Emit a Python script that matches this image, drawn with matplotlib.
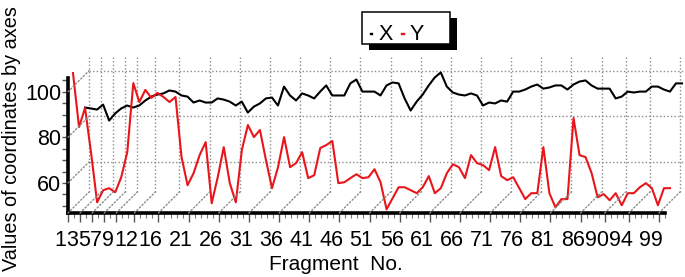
import matplotlib
matplotlib.use('Agg')
import matplotlib.pyplot as plt
from matplotlib.transforms import ScaledTranslation
from matplotlib.patches import Rectangle, ConnectionPatch
from matplotlib.lines import Line2D
from matplotlib.ticker import MultipleLocator, FixedLocator

plt.rcParams['font.family'] = ['Liberation Sans', 'DejaVu Sans']

# ---------------- data ----------------
fragments = list(range(1, 101))

x_values = [85.6, 85.2, 84.7, 86.9, 79.9, 83.0, 85.2, 86.5, 85.6, 86.5,
            88.7, 90.4, 91.3, 91.8, 93.1, 92.6, 90.9, 90.4, 87.8, 88.7,
            87.8, 87.8, 89.6, 89.1, 88.2, 86.5, 88.2, 83.4, 86.0, 87.4,
            89.6, 90.0, 86.5, 94.8, 90.9, 88.7, 91.8, 90.9, 89.6, 92.6,
            95.3, 90.9, 90.9, 90.9, 96.2, 97.9, 92.6, 92.6, 92.6, 90.9,
            95.3, 96.6, 96.2, 89.6, 84.3, 88.2, 91.3, 95.3, 98.8, 101.0,
            94.8, 92.2, 91.3, 90.9, 91.8, 90.9, 86.5, 87.8, 87.4, 88.7,
            88.2, 92.6, 92.6, 93.5, 94.8, 95.7, 93.9, 94.4, 95.3, 95.3,
            93.5, 95.7, 97.0, 97.5, 95.3, 93.9, 93.9, 93.9, 89.6, 90.4,
            92.6, 92.2, 92.6, 92.6, 94.8, 94.8, 93.5, 92.6, 96.2, 96.2]

y_values = [106.0, 82.3, 90.7, 70.9, 49.3, 54.6, 55.5, 53.7, 60.3, 71.3,
            101.6, 93.3, 98.6, 95.1, 97.3, 95.5, 93.3, 95.5, 69.1, 56.8,
            62.1, 70.0, 75.7, 48.9, 60.3, 73.5, 57.7, 49.3, 72.2, 83.2,
            77.9, 81.0, 67.8, 55.5, 64.7, 77.9, 64.7, 66.5, 71.3, 59.9,
            61.2, 73.1, 74.4, 76.2, 57.7, 58.1, 59.9, 61.6, 59.9, 60.3,
            63.8, 58.1, 46.2, 51.1, 55.9, 55.9, 54.6, 53.3, 55.9, 60.8,
            53.3, 55.5, 62.1, 66.0, 64.7, 59.9, 70.0, 66.5, 65.6, 63.4,
            73.5, 60.8, 59.0, 60.3, 55.5, 50.7, 53.3, 53.3, 73.5, 53.3,
            47.1, 50.7, 50.7, 86.3, 70.0, 69.1, 62.1, 51.5, 52.9, 50.2,
            53.3, 48.0, 53.3, 53.3, 55.9, 57.7, 55.5, 48.0, 55.5, 55.5]

x_tick_values = [1, 3, 5, 7, 9, 12, 16, 21, 26, 31, 36, 41, 46, 51, 56, 61,
                 66, 71, 76, 81, 86, 90, 94, 99]
x_tick_labels = [str(v) for v in x_tick_values]
y_tick_values = [60, 80, 100]
y_tick_labels = ['60', '80', '100']
series_names = ['X', 'Y']
series_colors = ['black', '#e8161b']

# ---------------- figure ----------------
W, H = 685, 277
fig = plt.figure(figsize=(W / 100, H / 100), dpi=100)
ax = fig.add_axes([68 / W, 64 / H, 597 / W, 134.5 / H])
ax.set_xlim(1, 100)
ax.set_ylim(46.8, 105.8)
ax.patch.set_alpha(0)

DEPTH = 0.21  # inches, back wall offset
back = ax.transData + ScaledTranslation(DEPTH, DEPTH, fig.dpi_scale_trans)
grid_kw = dict(color='#8a8a8a', lw=1.0, ls=(0, (1, 1.6)), zorder=1)

ylo, yhi = ax.get_ylim()
xlo, xhi = ax.get_xlim()
for yv in y_tick_values:
    ax.add_line(Line2D([xlo, xhi], [yv, yv], transform=back, clip_on=False, **grid_kw))
for xv in x_tick_values:
    ax.add_line(Line2D([xv, xv], [ylo, yhi], transform=back, clip_on=False, **grid_kw))
for xv in x_tick_values:
    fig.add_artist(ConnectionPatch((xv, ylo), (xv, ylo), coordsA=ax.transData,
                                   coordsB=back, arrowstyle='-', **grid_kw))
for yv in y_tick_values:
    fig.add_artist(ConnectionPatch((xlo, yv), (xlo, yv), coordsA=ax.transData,
                                   coordsB=back, arrowstyle='-', **grid_kw))

# series (X at back row, Y at front row)
tr_x = ax.transData + ScaledTranslation(0.17, 0.17, fig.dpi_scale_trans)
tr_y = ax.transData + ScaledTranslation(0.05, 0.05, fig.dpi_scale_trans)
ax.plot(fragments, x_values, color=series_colors[0], lw=1.5, transform=tr_x,
        clip_on=False, zorder=3)
ax.plot(fragments, y_values, color=series_colors[1], lw=1.5, transform=tr_y,
        clip_on=False, zorder=4)

for s in ['top', 'right']:
    ax.spines[s].set_visible(False)
for s in ['left', 'bottom']:
    ax.spines[s].set_linewidth(2.6)
    ax.spines[s].set_color('black')
    ax.spines[s].set_zorder(5)

ax.xaxis.set_major_locator(FixedLocator(x_tick_values))
ax.set_xticklabels(x_tick_labels)
ax.xaxis.set_minor_locator(MultipleLocator(1))
ax.yaxis.set_major_locator(FixedLocator(y_tick_values))
ax.set_yticklabels(y_tick_labels)
ax.yaxis.set_minor_locator(MultipleLocator(5))

ax.tick_params(axis='x', which='major', length=6.5, width=1.0, color='#555',
               labelsize=15.5, pad=5.5)
ax.tick_params(axis='x', which='minor', length=3.5, width=0.8, color='#777')
ax.tick_params(axis='y', which='both', length=4, width=1.0, color='#555',
               labelsize=15.5, pad=1)

for lab in ax.get_xticklabels():
    lab.set_transform(lab.get_transform() + ScaledTranslation(-0.08, 0, fig.dpi_scale_trans))

fig.text(12 / W, 1 - 139 / H, 'Values of coordinates by axes', rotation=90,
         ha='center', va='center', fontsize=14.3)
fig.text(336 / W, 1 - 270 / H, 'Fragment  No.', ha='center', va='baseline',
         fontsize=15)

# legend (boxed key with hard shadow)
bx0, by0, bw, bh = 362, 12, 88, 32
fig.add_artist(Rectangle(((bx0 + 7) / W, 1 - (by0 + 6 + bh) / H), bw / W, bh / H,
                         transform=fig.transFigure, facecolor='black',
                         edgecolor='none', zorder=10))
fig.add_artist(Rectangle((bx0 / W, 1 - (by0 + bh) / H), bw / W, bh / H,
                         transform=fig.transFigure, facecolor='white',
                         edgecolor='black', lw=1.1, zorder=11))
key_x = [371, 402]
for name, col, kx in zip(series_names, series_colors, key_x):
    fig.add_artist(Line2D([kx / W, (kx + 1.5) / W], [1 - 34 / H, 1 - 34 / H],
                          transform=fig.transFigure, color=col, lw=1.7, zorder=12))
    fig.text((kx + 8) / W, 1 - 40 / H, name, ha='left', va='baseline',
             fontsize=15.5, zorder=12)

fig.savefig('out.png', dpi=100)
